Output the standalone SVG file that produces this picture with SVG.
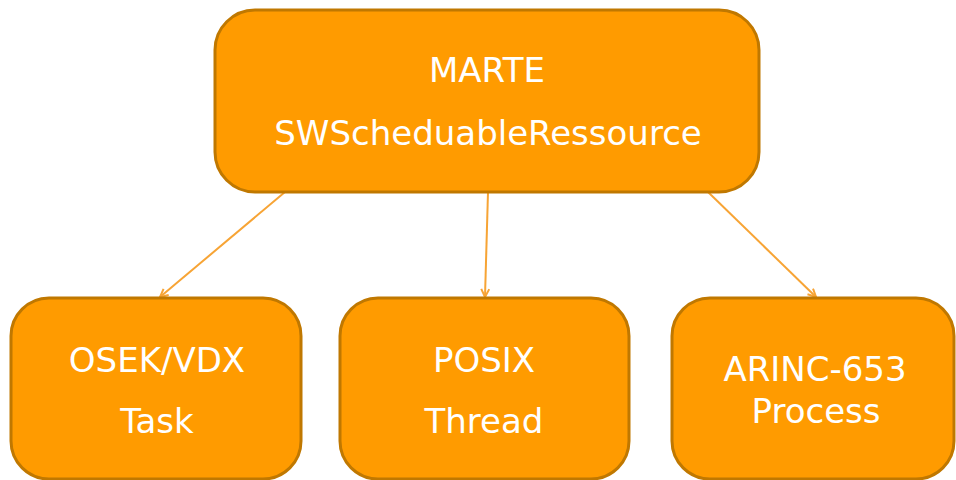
<svg xmlns="http://www.w3.org/2000/svg" width="956" height="480" viewBox="0 0 956 480">
<defs>
<style>
.box{fill:#FF9B00;stroke:#C07800;stroke-width:3}
.t{font-family:"DejaVu Sans",Verdana,sans-serif;font-size:34px;fill:#FFFFFF;text-anchor:middle}
.c{stroke:#F7A435;stroke-width:2;fill:none}
</style>
<marker id="ah" viewBox="0 0 10 10" refX="9" refY="5" markerWidth="10" markerHeight="10" markerUnits="userSpaceOnUse" orient="auto">
<path d="M1,1 L9,5 L1,9" fill="none" stroke="#F7A435" stroke-width="2"/>
</marker>
</defs>
<rect width="956" height="480" fill="#FFFFFF"/>
<g id="connectors">
<line class="c" x1="285" y1="192" x2="160" y2="297" marker-end="url(#ah)"/>
<line class="c" x1="488" y1="192" x2="485" y2="297" marker-end="url(#ah)"/>
<line class="c" x1="708" y1="192" x2="816" y2="297" marker-end="url(#ah)"/>
</g>
<g id="marte">
<rect class="box" x="215" y="10" width="544" height="182" rx="40" ry="40"/>
<text class="t" x="487" y="82">MARTE</text>
<text class="t" x="488" y="145">SWScheduableRessource</text>
</g>
<g id="osek">
<rect class="box" x="11" y="298" width="290" height="181" rx="38" ry="38"/>
<text class="t" x="157" y="372">OSEK/VDX</text>
<text class="t" x="157" y="433">Task</text>
</g>
<g id="posix">
<rect class="box" x="340" y="298" width="289" height="181" rx="38" ry="38"/>
<text class="t" x="484" y="372">POSIX</text>
<text class="t" x="484" y="433">Thread</text>
</g>
<g id="arinc">
<rect class="box" x="672" y="298" width="282" height="181" rx="38" ry="38"/>
<text class="t" x="815" y="381">ARINC-653</text>
<text class="t" x="816" y="423">Process</text>
</g>
</svg>
